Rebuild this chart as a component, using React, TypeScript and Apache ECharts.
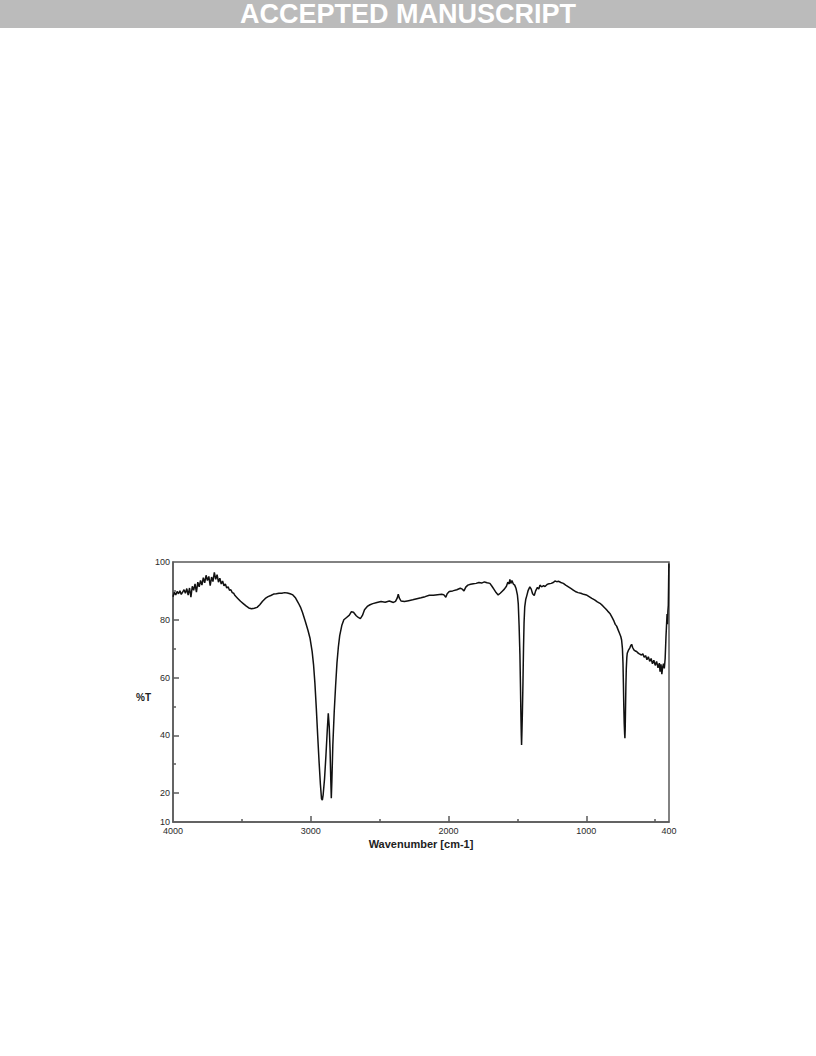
import React, { useEffect, useRef } from "react";
import * as echarts from "echarts";

// IR spectrum: wavenumber (cm-1) vs %T
const wavenumbers = [
  4000, 3990, 3980, 3970, 3960, 3950, 3940, 3930, 3920, 3910, 3900, 3890, 3880, 3870, 3860, 3850,
  3840, 3830, 3820, 3810, 3800, 3790, 3780, 3770, 3760, 3750, 3740, 3730, 3720, 3710, 3700, 3690,
  3680, 3670, 3660, 3650, 3640, 3630, 3620, 3610, 3600, 3590, 3580, 3570, 3560, 3550,
  3530, 3510, 3490, 3470, 3450, 3430, 3410, 3390, 3370, 3350, 3330, 3310, 3290, 3270, 3250, 3230,
  3210, 3190, 3170, 3150, 3130, 3110, 3090, 3075, 3060, 3040, 3020, 3005, 2990, 2980, 2970, 2960,
  2950, 2940, 2930, 2922, 2916, 2910, 2900, 2890, 2880, 2873, 2866, 2860, 2855, 2851, 2847, 2840,
  2830, 2820, 2810, 2800, 2790, 2775, 2760, 2740, 2720, 2705, 2690, 2670, 2655, 2640, 2625, 2610,
  2590, 2570, 2550, 2520, 2490, 2460, 2430, 2400, 2385, 2372, 2365, 2358, 2345, 2320, 2290, 2260,
  2230, 2200, 2170, 2140, 2110, 2080, 2050, 2035, 2020, 2010, 1995, 1970, 1940, 1915, 1900, 1888,
  1875, 1860, 1840, 1820, 1800, 1780, 1760, 1740, 1720, 1700, 1685, 1670, 1655, 1640, 1625, 1610,
  1595, 1580, 1570, 1560, 1555, 1548, 1540, 1530, 1520, 1510, 1500, 1494, 1488, 1482, 1478, 1475,
  1472, 1470, 1467, 1464, 1460, 1456, 1452, 1447, 1440, 1433, 1422, 1410, 1400, 1390, 1378, 1368,
  1355, 1345, 1337, 1325, 1310, 1300, 1285, 1270, 1255, 1240, 1228, 1215, 1200, 1185, 1167, 1150,
  1130, 1110, 1095, 1080, 1060, 1040, 1020, 1000, 980, 960, 940, 920, 901, 880, 860, 845,
  829, 815, 800, 790, 780, 770, 760, 750, 744, 738, 734, 731, 728, 725, 722, 720,
  718, 716, 713, 710, 706, 703, 695, 685, 678, 671, 664, 655, 645, 635, 625, 615,
  600, 590, 580, 570, 560, 550, 540, 530, 520, 510, 500, 490, 480, 470, 465, 458,
  452, 446, 440, 434, 428, 422, 418, 414, 411, 408, 405, 403, 401, 400,
];

const transmittance = [
  88.0, 89.5, 88.6, 89.8, 89.0, 90.0, 88.8, 89.6, 90.4, 89.2, 90.8, 88.5, 91.0, 87.8, 91.6, 90.2,
  92.4, 89.6, 93.0, 91.4, 93.6, 92.0, 94.6, 92.8, 95.4, 93.6, 95.0, 91.8, 94.8, 93.2, 96.4, 94.0,
  95.6, 93.0, 94.4, 92.4, 93.4, 91.8, 92.4, 91.0, 91.4, 90.2, 90.4, 89.4, 89.2, 88.4,
  87.4, 86.4, 85.6, 84.8, 84.1, 83.8, 84.0, 84.3, 85.2, 86.4, 87.4, 88.0, 88.4, 88.9, 89.0, 89.2,
  89.2, 89.4, 89.3, 89.0, 88.6, 87.5, 85.8, 84.4, 82.5, 79.5, 76.3, 73.5, 69.0, 64.5, 58.0, 49.5,
  40.0, 31.0, 23.0, 18.0, 17.6, 19.5, 25.0, 33.0, 42.0, 47.6, 43.0, 35.0, 25.0, 18.2, 24.0, 36.5,
  48.0, 57.0, 65.0, 70.5, 74.5, 78.0, 80.0, 80.8, 81.6, 82.8, 82.6, 81.4, 80.8, 80.4, 81.5, 83.5,
  84.6, 85.2, 85.6, 86.0, 86.3, 86.1, 86.5, 86.0, 86.4, 87.6, 88.9, 87.6, 86.5, 86.3, 86.6, 86.9,
  87.3, 87.6, 88.0, 88.5, 88.5, 88.7, 88.8, 88.7, 87.8, 89.0, 89.8, 90.0, 90.4, 90.9, 90.6, 90.0,
  91.3, 92.0, 92.3, 92.5, 92.6, 92.9, 92.7, 93.1, 92.8, 92.6, 91.6, 90.5, 89.4, 88.6, 89.2, 89.9,
  90.6, 91.6, 93.0, 92.4, 94.0, 92.6, 93.6, 92.4, 92.0, 90.8, 88.5, 85.5, 78.0, 68.0, 57.0, 47.6,
  40.0, 36.7, 42.0, 48.0, 58.0, 70.0, 79.0, 84.5, 87.0, 88.2, 90.2, 91.4, 90.6, 89.0, 88.4, 90.0,
  91.2, 90.6, 92.0, 91.4, 91.8, 91.5, 92.2, 92.5, 92.6, 92.9, 93.4, 93.2, 93.3, 92.9, 92.6, 92.0,
  91.4, 90.8, 90.3, 89.8, 89.4, 89.2, 88.8, 88.6, 88.0, 87.4, 86.9, 86.2, 85.7, 84.8, 83.8, 83.0,
  82.2, 81.0, 79.6, 78.4, 77.8, 76.6, 75.4, 74.2, 73.0, 70.0, 65.0, 58.0, 50.0, 44.0, 40.5, 39.0,
  42.0, 48.0, 56.8, 63.0, 67.0, 68.4, 69.4, 70.2, 71.0, 71.5, 70.4, 69.6, 69.2, 69.0, 68.5, 68.2,
  67.8, 68.2, 67.0, 67.6, 66.2, 67.2, 65.6, 66.6, 64.8, 66.0, 64.2, 65.6, 63.4, 65.0, 62.0, 64.6,
  61.2, 63.6, 64.8, 63.2, 66.5, 74.0, 78.0, 82.0, 78.5, 83.0, 85.0, 92.0, 99.5, 98.0,
];

const xLabelValues = [4000, 3000, 2000, 1000, 400];
const xMajorTicks = [3000, 2000, 1000];
const xMinorTicks = [3500, 2500, 1500, 500];
const yLabelValues = [10, 20, 40, 60, 80, 100];
const yMajorTicks = [20, 40, 60, 80];
const yMinorTicks = [30, 50, 70, 90];

const headerText = "ACCEPTED MANUSCRIPT";
const xAxisTitle = "Wavenumber [cm-1]";
const yAxisTitle = "%T";

const AXIS_COLOR = "#5a5a5a";
const LABEL_COLOR = "#2a2a2a";

export default function App() {
  const ref = useRef<HTMLDivElement>(null);

  useEffect(() => {
    if (!ref.current) return;
    const chart = echarts.init(ref.current, undefined, { renderer: "svg" });
    const lineStyle = { color: AXIS_COLOR, width: 1.5 };
    const plain = (v: number) => String(v);
    const baseX = {
      type: "value" as const,
      min: 400,
      max: 4000,
      inverse: true,
      position: "bottom" as const,
      splitLine: { show: false },
    };
    const baseY = {
      type: "value" as const,
      min: 10,
      max: 100,
      position: "left" as const,
      splitLine: { show: false },
    };
    chart.setOption({
      animation: false,
      textStyle: { fontFamily: "Liberation Sans" },
      grid: {
        left: 173,
        top: 562,
        width: 496,
        height: 260,
        show: true,
        borderColor: AXIS_COLOR,
        borderWidth: 1.5,
        backgroundColor: "transparent",
      },
      xAxis: [
        {
          ...baseX,
          axisLine: { show: true, lineStyle },
          axisTick: { show: true, inside: true, length: 6, customValues: xMajorTicks, lineStyle },
          axisLabel: {
            customValues: xLabelValues,
            formatter: plain,
            margin: 4,
            fontSize: 9,
            color: LABEL_COLOR,
          },
          name: xAxisTitle,
          nameLocation: "middle",
          nameGap: 16,
          nameTextStyle: { fontWeight: "bold", fontSize: 11, color: "#222" },
        },
        {
          ...baseX,
          axisLine: { show: false },
          axisTick: { show: true, inside: true, length: 3, customValues: xMinorTicks, lineStyle },
          axisLabel: { show: false },
        },
      ],
      yAxis: [
        {
          ...baseY,
          axisLine: { show: true, lineStyle },
          axisTick: { show: true, inside: true, length: 6, customValues: yMajorTicks, lineStyle },
          axisLabel: {
            customValues: yLabelValues,
            formatter: plain,
            margin: 3,
            fontSize: 9,
            color: LABEL_COLOR,
          },
        },
        {
          ...baseY,
          axisLine: { show: false },
          axisTick: { show: true, inside: true, length: 3, customValues: yMinorTicks, lineStyle },
          axisLabel: { show: false },
        },
      ],
      graphic: [
        {
          type: "rect",
          shape: { x: 0, y: 0, width: 816, height: 28 },
          style: { fill: "#bbbbbb" },
        },
        {
          type: "text",
          x: 408,
          y: 14,
          style: {
            text: headerText,
            fill: "#ffffff",
            font: "bold 27px 'Liberation Sans', Arial, sans-serif",
            textAlign: "center",
            textVerticalAlign: "middle",
          },
        },
        {
          type: "text",
          x: 151,
          y: 697,
          style: {
            text: yAxisTitle,
            fill: "#222",
            font: "bold 10px 'Liberation Sans', Arial, sans-serif",
            textAlign: "right",
            textVerticalAlign: "middle",
          },
        },
      ],
      series: [
        {
          type: "line",
          xAxisIndex: 0,
          yAxisIndex: 0,
          data: wavenumbers.map((w, i) => [w, transmittance[i]]),
          symbol: "none",
          showSymbol: false,
          lineStyle: { color: "#111", width: 1.5 },
        },
      ],
    });
    return () => chart.dispose();
  }, []);

  return (
    <div
      ref={ref}
      style={{ position: "absolute", left: 0, top: 0, width: 816, height: 1056, background: "#fff" }}
    />
  );
}
